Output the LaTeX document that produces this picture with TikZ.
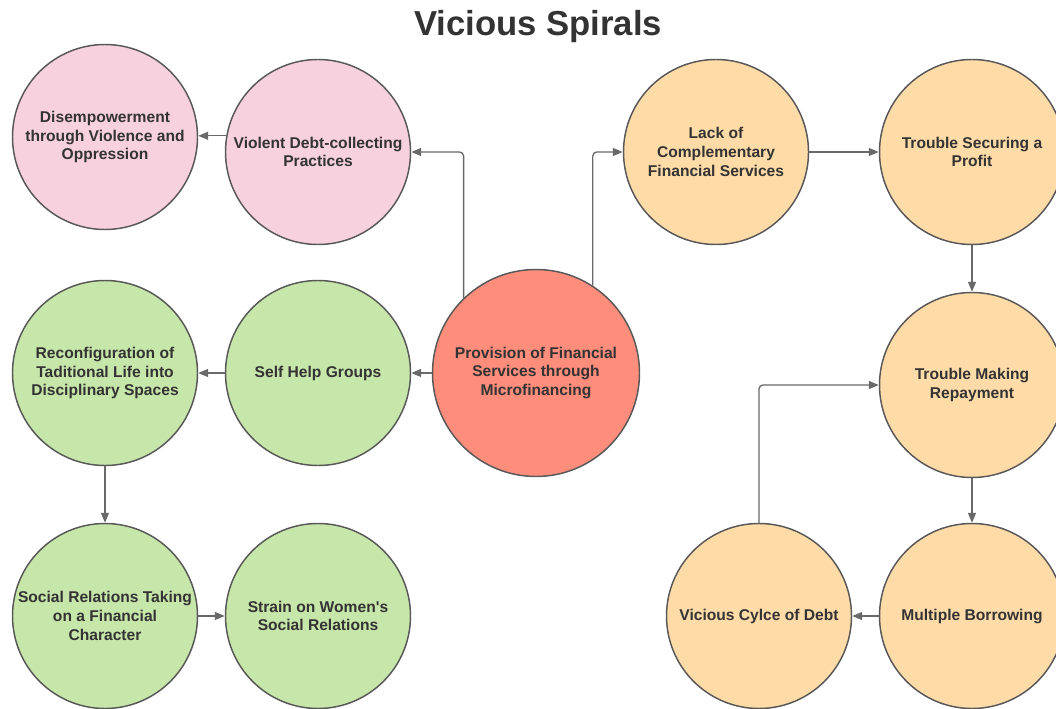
\documentclass[tikz,border=0pt]{standalone}
\usepackage{fontspec}
\setmainfont{Liberation Sans}
\usepackage{tikz}
\usetikzlibrary{arrows.meta}

\definecolor{spiralpink}{RGB}{247,209,221}
\definecolor{spiralred}{RGB}{255,141,124}
\definecolor{spiralorange}{RGB}{255,219,168}
\definecolor{spiralgreen}{RGB}{199,230,170}
\definecolor{rimgrey}{RGB}{88,88,88}
\definecolor{linkgrey}{RGB}{105,105,105}
\definecolor{inkgrey}{RGB}{51,51,51}

\tikzset{
  bubble/.style={circle, draw=rimgrey, line width=1.1pt, minimum size=138.75pt,
    inner sep=0pt, align=center, text=inkgrey,
    font=\fontsize{11.7}{14}\selectfont\bfseries},
  link/.style={draw=linkgrey, line width=1pt,
    -{Triangle[length=7.5pt,width=6pt]}, rounded corners=3pt},
}

\begin{document}
\begin{tikzpicture}[x=0.75pt,y=0.75pt,yscale=-1,xscale=1]
			\useasboundingbox (0,0) rectangle (1056,709);

			% Title
			\node (title) at (538,27) [text=inkgrey, font=\fontsize{26}{30}\selectfont\bfseries] {Vicious Spirals};

			% Centre node
			\node (prov) at (536,373) [bubble, fill=spiralred, minimum size=155.25pt] {Provision of Financial\\Services through\\Microfinancing};

			% Violence branch
			\node (viol) at (318,152) [bubble, fill=spiralpink] {Violent Debt-collecting\\Practices};
			\node (dis) at (105,137) [bubble, fill=spiralpink] {Disempowerment\\through Violence and\\Oppression};

			% Self help branch
			\node (shg) at (318,373) [bubble, fill=spiralgreen] {Self Help Groups};
			\node (reconf) at (105,373) [bubble, fill=spiralgreen] {Reconfiguration of\\Taditional Life into\\Disciplinary Spaces};
			\node (social) at (105,616) [bubble, fill=spiralgreen] {Social Relations Taking\\on a Financial\\Character};
			\node (strain) at (318,616) [bubble, fill=spiralgreen] {Strain on Women\textquotesingle s\\Social Relations};

			% Debt branch
			\node (lack) at (716,152) [bubble, fill=spiralorange] {Lack of\\Complementary\\Financial Services};
			\node (profit) at (972,152) [bubble, fill=spiralorange] {Trouble Securing a\\Profit};
			\node (repay) at (972,385) [bubble, fill=spiralorange] {Trouble Making\\Repayment};
			\node (borrow) at (972,616) [bubble, fill=spiralorange] {Multiple Borrowing};
			\node (cycle) at (759,616) [bubble, fill=spiralorange] {Vicious Cylce of Debt};

			% Connectors
			\draw [link] (prov.134) |- (viol.east);
			\draw [link] (viol.170) -- (viol.170 -| dis.east);
			\draw [link] (prov.57) |- (lack.west);
			\draw [link] (prov.west) -- (shg.east);
			\draw [link] (shg.west) -- (reconf.east);
			\draw [link] (reconf.south) -- (social.north);
			\draw [link] (social.east) -- (strain.west);
			\draw [link] (lack.east) -- (profit.west);
			\draw [link] (profit.south) -- (repay.north);
			\draw [link] (repay.south) -- (borrow.north);
			\draw [link] (borrow.west) -- (cycle.east);
			\draw [link] (cycle.north) |- (repay.west);
		\end{tikzpicture}
\end{document}
